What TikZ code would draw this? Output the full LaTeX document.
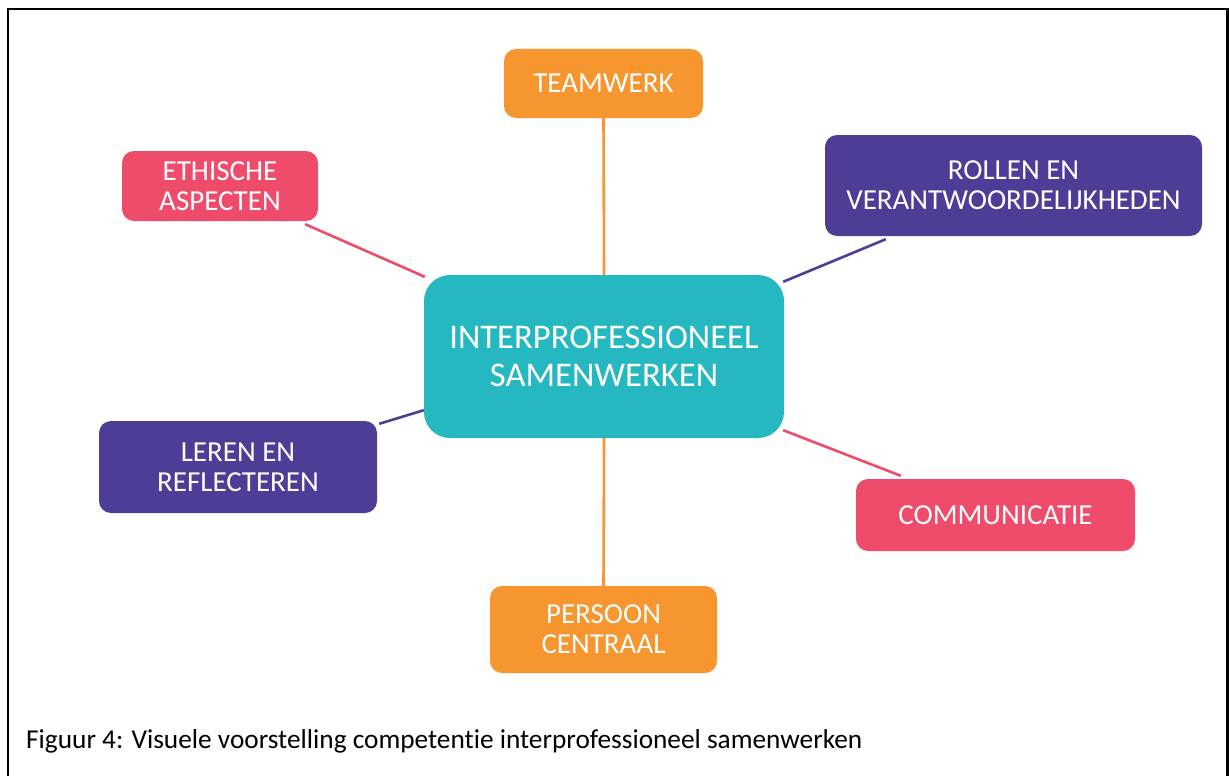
\documentclass[tikz,border=0pt]{standalone}
\usepackage{fontspec}
\setmainfont{Carlito}[Ligatures=NoCommon]
\usetikzlibrary{calc}
\definecolor{tworange}{HTML}{F7952F}
\definecolor{twpink}{HTML}{EF4B6B}
\definecolor{twpurple}{HTML}{4E3C96}
\definecolor{twteal}{HTML}{25B8C0}
\begin{document}
\begin{tikzpicture}[x=1pt,y=-1pt,
  box/.style={rounded corners=12pt, inner sep=0pt, align=center, text=white,
    font=\fontsize{29}{30}\selectfont},
  corebox/.style={rounded corners=26pt, inner sep=0pt, align=center, text=white,
    fill=twteal, font=\fontsize{34.6}{38}\selectfont},
  link/.style={line width=2.6pt}]
\useasboundingbox (0,0) rectangle (1229,776);
\fill[white] (0,0) rectangle (1229,776);
% outer frame
\draw[line width=2.4pt] (8,776) -- (8,9) -- (1227.5,9) -- (1227.5,776);

% central node
\node[corebox, minimum width=360pt, minimum height=163pt] (core) at (604,356.5)
  {INTERPROFESSIONEEL\\SAMENWERKEN};

% surrounding nodes
\node[box, fill=tworange, minimum width=199pt, minimum height=69pt] (team) at (603.5,83.5) {TEAMWERK};
\node[box, fill=twpink, minimum width=196pt, minimum height=70pt] (eth) at (220,186) {ETHISCHE\\ASPECTEN};
\node[box, fill=twpurple, minimum width=377pt, minimum height=101pt] (rol) at (1013.5,185.5) {ROLLEN EN\\VERANTWOORDELIJKHEDEN};
\node[box, fill=twpurple, minimum width=278pt, minimum height=92pt] (ler) at (238,467) {LEREN EN\\REFLECTEREN};
\node[box, fill=twpink, minimum width=279pt, minimum height=72pt] (com) at (995.5,515) {COMMUNICATIE};
\node[box, fill=tworange, minimum width=227pt, minimum height=87pt] (pers) at (603.5,629.5) {PERSOON\\CENTRAAL};

% connectors
\draw[link, tworange] (team.south) -- (core.north);
\draw[link, tworange] (core.south) -- (pers.north);
\draw[link, twpink] ([shift={(-13,3)}]eth.south east) -- ([shift={(1,2)}]core.north west);
\draw[link, twpurple] ([shift={(61,3)}]rol.south west) -- ([shift={(-1,7)}]core.north east);
\draw[link, twpurple] ([shift={(2,3)}]ler.north east) -- ([shift={(0,-28)}]core.south west);
\draw[link, twpink] ([shift={(-1,-8)}]core.south east) -- ([shift={(45,-3)}]com.north west);

% caption
\node[anchor=base west, inner sep=0pt, font=\fontsize{27.3}{30}\selectfont] (cap) at (26,748)
  {Figuur 4: Visuele voorstelling competentie interprofessioneel samenwerken};
\end{tikzpicture}
\end{document}
